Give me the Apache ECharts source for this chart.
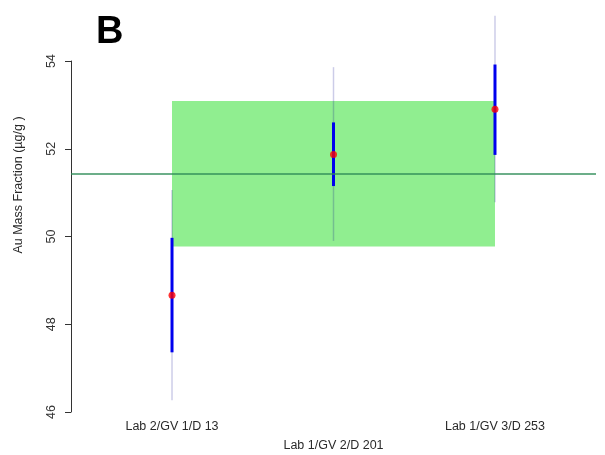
<!DOCTYPE html>
<html>
<head>
<meta charset="utf-8">
<script src="https://cdn.jsdelivr.net/npm/echarts@6/dist/echarts.min.js"></script>
<style>html,body{margin:0;padding:0;background:#fff;}#c{width:605px;height:455px;}</style>
</head>
<body>
<div id="c"></div>
<script>
var labels = ['Lab 2/GV 1/D 13', 'Lab 1/GV 2/D 201', 'Lab 1/GV 3/D 253'];
var positions = [1, 2, 3];
var means = [48.66, 51.87, 52.90];
var innerLow = [47.36, 51.15, 51.86];
var innerHigh = [49.97, 52.60, 53.92];
var outerLow = [46.27, 49.90, 50.78];
var outerHigh = [51.06, 53.86, 55.03];
var consensus = 51.42;
var bandLow = 49.77;
var bandHigh = 53.09;
var yTicks = [46, 48, 50, 52, 54];

var FONT = 'Liberation Sans, Arial, sans-serif';
var chart = echarts.init(document.getElementById('c'), null, {renderer: 'canvas'});

function barSeries(lowArr, highArr, color, width, z) {
  return {
    type: 'custom',
    clip: false,
    z: z,
    silent: true,
    data: positions.map(function (p, i) { return [p, lowArr[i], highArr[i]]; }),
    renderItem: function (params, api) {
      var a = api.coord([api.value(0), api.value(1)]);
      var b = api.coord([api.value(0), api.value(2)]);
      return {
        type: 'line',
        shape: {x1: a[0], y1: a[1], x2: b[0], y2: b[1]},
        style: {stroke: color, lineWidth: width}
      };
    }
  };
}

var option = {
  animation: false,
  backgroundColor: '#fff',
  grid: {left: 71, right: 9, top: 61, bottom: 43, containLabel: false},
  xAxis: {
    type: 'value',
    min: 0.3745,
    max: 3.6255,
    axisLine: {show: false},
    axisTick: {show: false},
    splitLine: {show: false},
    axisLabel: {
      customValues: positions,
      margin: 5,
      color: '#2a2a2a',
      fontFamily: FONT,
      fontSize: 12.5,
      lineHeight: 19,
      formatter: function (v) {
        var i = positions.indexOf(Math.round(v));
        if (i < 0) return '';
        return (i === 1 ? '\n' : '') + labels[i];
      }
    }
  },
  yAxis: {
    type: 'value',
    min: 46,
    max: 54,
    interval: 2,
    axisLine: {show: true, lineStyle: {color: '#333', width: 1}},
    axisTick: {show: true, length: 6, lineStyle: {color: '#333'}},
    splitLine: {show: false},
    axisLabel: {
      rotate: 90,
      margin: 13,
      color: '#333',
      fontFamily: FONT,
      fontSize: 12.5,
      formatter: function (v) { return yTicks.indexOf(v) >= 0 ? String(v) : ''; }
    }
  },
  graphic: [
    {
      type: 'text',
      left: 96, top: 14,
      style: {text: 'B', font: 'bold 38px ' + FONT, fill: '#000'}
    },
    {
      type: 'text',
      x: 19, y: 185,
      rotation: Math.PI / 2,
      style: {text: 'Au Mass Fraction (µg/g )', font: '12.5px ' + FONT, fill: '#2a2a2a', align: 'center', verticalAlign: 'middle'}
    }
  ],
  series: [
    {
      type: 'line',
      data: [],
      silent: true,
      z: 1,
      markArea: {
        silent: true,
        itemStyle: {color: '#90EE90', opacity: 1},
        data: [[{xAxis: positions[0], yAxis: bandLow}, {xAxis: positions[2], yAxis: bandHigh}]]
      },
      markLine: {
        silent: true,
        symbol: 'none',
        label: {show: false},
        lineStyle: {color: 'rgba(46,139,87,0.7)', width: 2, type: 'solid'},
        data: [{yAxis: consensus}]
      }
    },
    barSeries(outerLow, outerHigh, 'rgba(0,0,139,0.2)', 1.5, 3),
    barSeries(innerLow, innerHigh, '#0000ee', 3, 4),
    {
      type: 'scatter',
      z: 5,
      clip: false,
      symbol: 'circle',
      symbolSize: 7,
      itemStyle: {color: '#ff0000'},
      data: positions.map(function (p, i) { return [p, means[i]]; })
    }
  ]
};
chart.setOption(option);
</script>
</body>
</html>
